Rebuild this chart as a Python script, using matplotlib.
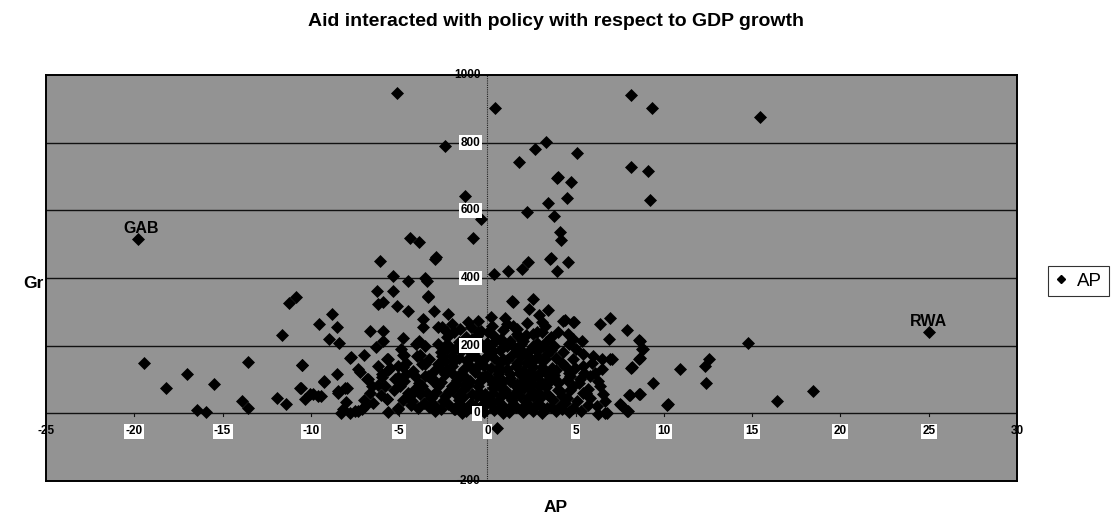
import matplotlib
matplotlib.use("Agg")
import matplotlib.pyplot as plt
from matplotlib.lines import Line2D

title = "Aid interacted with policy with respect to GDP growth"
x_label = "AP"
y_label = "Gr"
series_name = "AP"

x_ticks = [-25, -20, -15, -10, -5, 0, 5, 10, 15, 20, 25, 30]
y_ticks = [-200, 0, 200, 400, 600, 800, 1000]

# labelled countries
labels = ["GAB", "RWA"]
label_x = [-19.8, 25.0]
label_y = [515, 241]

# (AP, Gr) points
points_outer = [
    (-19.8, 515), (25.0, 241),
    (-5.1, 948), (-2.4, 791), (-1.25, 643), (-0.35, 575), (-0.8, 518), (-4.4, 518),
    (-3.9, 506), (-2.9, 462),
    (0.44, 901), (3.3, 802), (2.7, 780), (5.06, 770), (1.8, 742), (8.14, 940),
    (9.33, 901), (15.47, 877), (8.14, 728), (9.08, 715), (9.2, 632), (3.93, 695),
    (4.0, 700), (4.74, 685), (4.5, 637), (3.46, 622), (2.27, 595), (3.78, 583),
    (4.14, 537), (4.17, 513), (3.6, 459),
    (0.38, 412), (1.15, 420), (1.98, 427), (2.32, 446), (3.57, 456), (3.95, 422),
    (4.57, 448), (1.42, 331), (2.57, 338), (2.36, 308), (3.46, 306), (1.0, 281),
    (4.4, 276), (4.93, 269),
    (6.38, 264), (6.93, 283), (7.89, 246), (6.91, 219), (8.59, 217), (8.74, 190),
    (8.61, 162), (8.14, 135), (7.04, 160), (14.75, 207), (10.93, 130), (12.56, 160),
    (12.3, 140), (12.4, 91), (9.37, 91), (18.43, 66), (16.41, 36), (10.2, 26),
    (8.05, 54), (8.6, 58), (7.55, 26), (7.93, 6), (6.29, -2), (6.67, 0), (0.53, -44),
]
points_left = [
    (-19.43, 150), (-18.2, 74), (-17.04, 116), (-16.45, 10), (-15.92, 4),
    (-15.47, 88), (-13.58, 152), (-13.92, 36), (-13.54, 16), (-11.94, 44),
    (-11.39, 27), (-11.65, 232), (-11.24, 326), (-10.86, 343), (-10.5, 143),
    (-10.58, 76), (-10.33, 41), (-9.86, 56), (-9.42, 51), (-9.24, 94), (-9.54, 264),
    (-8.82, 295), (-8.54, 254), (-8.97, 219), (-8.39, 207), (-8.52, 117),
    (-8.44, 66), (-7.97, 76), (-8.0, 34), (-8.31, 2), (-7.78, 2), (-7.5, 7),
    (-7.12, 14), (-7.72, 167), (-6.97, 172), (-7.21, 122), (-6.74, 101),
    (-6.65, 61), (-6.22, 83), (-5.99, 116), (-5.61, 160), (-5.7, 41), (-5.61, 4),
    (-5.04, 14), (-5.51, 135), (-5.04, 140), (-5.04, 106), (-4.76, 172),
    (-4.7, 96), (-6.65, 244), (-5.89, 244), (-5.89, 214), (-4.8, 224),
    (-4.06, 204), (-3.53, 199), (-4.0, 170), (-3.53, 145), (-3.34, 111),
    (-4.49, 303), (-5.14, 318), (-6.18, 323), (-5.89, 330), (-6.27, 362),
    (-5.33, 362), (-6.08, 449), (-5.37, 407), (-4.52, 390), (-3.53, 399),
    (-3.44, 390), (-2.96, 456), (-3.38, 343), (-3.0, 303), (-3.63, 279),
    (-3.63, 254), (-2.78, 254), (-2.21, 293), (-2.31, 239), (-1.55, 249),
    (-0.51, 273), (-0.36, 244), (-2.4, 199), (-2.96, 7), (-1.83, 12), (-1.46, 2),
    (-3.34, 346), (-2.59, 254), (-2.02, 264), (-0.51, 239), (-0.89, 219),
    (-2.31, 190), (-2.02, 170), (-1.17, 155), (-0.32, 155), (-7.78, 165),
    (-5.7, 160), (-4.7, 172), (-3.81, 172), (-3.72, 145), (-4.76, 138),
    (-5.61, 128), (-10.48, 142), (-7.31, 132), (-5.99, 106), (-9.24, 96),
    (-8.06, 76), (-10.61, 76), (-10.05, 56), (-9.58, 51), (-8.44, 61),
    (-6.84, 101), (-6.56, 81), (-5.8, 81), (-5.23, 101), (-4.95, 81),
    (-4.61, 116), (-4.1, 111), (-4.1, 71), (-3.53, 111), (-5.7, 41),
    (-5.04, 17), (-4.29, 36), (-3.81, 56), (-3.91, 17), (-8.16, 12),
    (-6.93, 22), (-7.31, 7),
]
points_right = [
    (1.47, 330), (1.1, 264), (0.24, 259), (1.47, 259), (2.23, 267), (3.08, 269),
    (3.27, 259), (4.31, 273), (4.87, 269), (4.59, 234), (4.87, 219), (5.34, 214),
    (8.65, 214), (8.8, 190), (8.65, 165), (8.18, 138), (6.95, 160), (6.48, 162),
    (5.97, 168), (6.48, 132), (5.44, 140), (5.82, 111), (6.29, 96), (6.38, 81),
    (5.72, 71), (5.82, 46), (6.57, 56), (6.67, 36), (6.19, 22), (7.52, 27),
    (8.08, 53), (8.65, 56), (10.22, 27), (7.99, 7), (6.76, 2), (4.87, 160),
    (4.97, 135), (4.69, 111), (5.25, 101), (4.87, 81), (5.44, 61), (4.12, 22),
    (4.87, 17), (3.36, 17), (2.79, 27), (4.5, 46), (4.12, 66), (3.84, 101),
    (3.65, 135), (3.27, 160), (3.17, 199), (2.79, 185), (2.42, 165), (2.04, 180),
    (1.66, 190), (2.04, 214), (2.61, 234), (2.79, 209), (1.76, 229), (0.91, 209),
    (0.34, 185), (-0.04, 209), (0.06, 239), (0.91, 160), (1.66, 150), (0.53, 130),
    (1.29, 116), (2.04, 125), (2.61, 111), (3.08, 91), (2.42, 81), (1.66, 86),
    (0.91, 96), (0.15, 101), (0.34, 61), (1.1, 56), (1.85, 51), (2.61, 51),
    (3.36, 56), (2.23, 22), (1.47, 27), (0.72, 17), (-0.04, 32),
]
points_dense = [
    (-2.78, 145), (-2.02, 140), (-2.4, 116), (-1.55, 116), (-0.7, 130),
    (-0.13, 111), (-2.78, 81), (-2.02, 81), (-1.26, 86), (-0.51, 81),
    (-3.15, 51), (-2.4, 51), (-1.64, 51), (-0.89, 56), (-0.13, 56),
    (-2.96, 22), (-2.21, 27), (-1.46, 22), (-0.7, 22), (-2.59, 170),
    (-1.83, 190), (-0.98, 180), (-0.41, 199),
    (-1.9, 12), (-1.2, 8), (-0.6, 15), (0.4, 10), (1.2, 5), (1.9, 12), (2.6, 8),
    (3.2, 14), (3.9, 6), (-2.5, 35), (-1.6, 38), (-0.9, 30), (-0.2, 42), (0.6, 36),
    (1.4, 40), (2.2, 33), (3.0, 45), (3.7, 38), (4.4, 30), (-2.2, 65), (-1.4, 70),
    (-0.5, 62), (0.3, 75), (1.0, 68), (1.8, 72), (2.5, 66), (3.3, 78), (4.0, 70),
    (-1.7, 100), (-1.0, 95), (-0.3, 108), (0.5, 98), (1.3, 104), (2.0, 96),
    (2.8, 110), (3.5, 102), (-2.3, 125), (-1.3, 130), (-0.7, 122), (0.2, 135),
    (0.8, 128), (1.6, 140), (2.4, 122), (3.1, 136), (3.9, 128), (-1.9, 155),
    (-1.1, 160), (-0.4, 150), (0.4, 165), (1.1, 158), (1.9, 170), (2.7, 162),
    (3.4, 175), (4.2, 150), (-2.6, 180), (-1.5, 185), (-0.8, 178), (0.1, 190),
    (0.7, 186), (1.5, 195), (2.3, 182), (2.9, 192), (3.6, 188), (4.6, 120),
    (5.2, 90), (5.6, 60), (-3.4, 60), (-3.1, 95), (-2.7, 135), (-3.6, 30),
    (-3.2, 45), (-4.3, 25), (-4.5, 60), (-3.9, 215), (-1.2, 225), (-0.6, 230),
    (0.8, 220), (1.7, 235), (2.5, 90), (-3.0, 100), (-2.0, 70), (-1.1, 85),
    (0.0, 110), (1.3, 95), (2.1, 75), (2.9, 115), (3.8, 200), (-2.8, 205),
    (-1.6, 210), (-0.2, 195), (0.9, 245), (1.7, 250), (2.8, 240), (3.6, 225),
    (4.3, 180), (5.0, 190),
]
points_core = [
    (-1.8, 20), (-1.0, 18), (-0.3, 24), (0.2, 28), (0.9, 22), (1.6, 18), (2.4, 20),
    (3.0, 26), (3.6, 20), (4.2, 14), (-2.6, 12), (-3.3, 18), (-1.4, 48), (-0.6, 50),
    (0.1, 46), (0.8, 52), (1.5, 56), (2.3, 48), (2.9, 60), (3.5, 52), (4.2, 52),
    (-2.9, 62), (-2.6, 92), (-1.8, 85), (-1.3, 110), (-0.5, 92), (0.3, 88), (0.7, 78),
    (1.6, 80), (2.2, 105), (2.9, 82), (3.4, 88), (4.0, 90), (4.5, 100), (-3.0, 125),
    (-2.0, 118), (-1.0, 140), (-0.2, 140), (0.6, 115), (1.1, 132), (1.8, 118),
    (2.6, 138), (3.3, 118), (3.8, 112), (4.4, 140), (-3.3, 160), (-2.4, 155),
    (-1.6, 165), (-0.7, 168), (0.0, 168), (0.7, 150), (1.4, 172), (2.2, 150),
    (3.0, 160), (3.9, 165), (-2.2, 200), (-1.2, 198), (-0.5, 212), (0.4, 210),
    (1.1, 200), (1.9, 205), (2.6, 200), (3.3, 210), (4.0, 240), (-4.6, 150),
    (-4.2, 125), (-3.9, 90), (-4.8, 40), (-4.4, 50), (-3.7, 80), (-6.2, 140),
    (-6.0, 55), (-6.5, 30), (-7.0, 40), (-4.9, 190), (-6.3, 195), (-5.3, 70),
    (-2.3, 225), (-1.9, 240), (-0.9, 255), (0.4, 230), (1.3, 215), (2.2, 232),
    (3.1, 240), (0.2, 285), (-1.1, 270), (2.9, 290), (4.6, 205), (5.4, 175),
    (5.1, 35), (5.7, 25), (4.7, 70), (5.9, 150), (6.1, 120), (5.5, 120),
    (-0.2, 5), (0.9, 2), (2.0, 3), (3.1, 2), (4.6, 5), (5.3, 8),
]

BG = "#939393"

fig = plt.figure(figsize=(11.12, 5.23), dpi=100)
ax = fig.add_axes([46 / 1112, 1 - 481 / 523, (1017 - 46) / 1112, (481 - 75) / 523])
ax.set_facecolor(BG)
ax.set_xlim(x_ticks[0], x_ticks[-1])
ax.set_ylim(y_ticks[0], y_ticks[-1])

for yv in y_ticks[1:-1]:
    ax.axhline(yv, color="#111111", lw=1.0, zorder=1)
ax.axvline(0, color="#222222", lw=0.8, ls=(0, (1, 1)), zorder=1)

for xv in x_ticks[1:-1]:
    ax.plot([xv, xv], [0, -8], color="#111111", lw=0.8, zorder=1)

for group in (points_outer, points_left, points_right, points_dense, points_core):
    xs = [p[0] for p in group]
    ys = [p[1] for p in group]
    ax.scatter(xs, ys, marker="D", s=44, color="black", linewidths=0, zorder=3)

for spine in ax.spines.values():
    spine.set_linewidth(1.4)
    spine.set_color("black")
ax.set_xticks([])
ax.set_yticks([])

box = dict(boxstyle="square,pad=0.12", facecolor="white", edgecolor="none")
tick_font = dict(fontsize=8.5, fontfamily="Liberation Sans", fontweight="bold")
for xv in x_ticks:
    edge = xv in (x_ticks[0], x_ticks[-1])
    ax.text(xv, -53, str(xv), ha="center", va="center", zorder=4,
            bbox=None if edge else box, **tick_font)
for yv in y_ticks:
    edge = yv in (y_ticks[0], y_ticks[-1])
    ax.text(-0.4, yv, str(yv), ha="right", va="center", zorder=4,
            bbox=None if edge else box, **tick_font)

for name, lx, ly in zip(labels, label_x, label_y):
    ax.text(lx - 0.8 if name == "GAB" else lx, ly + 8, name,
            ha="left" if name == "GAB" else "center",
            va="bottom", fontsize=11.5, fontweight="bold", fontfamily="Liberation Sans",
            zorder=5)

fig.text(0.5, 1 - 21 / 523, title, ha="center", va="center", fontsize=14,
         fontweight="bold", fontfamily="Liberation Sans")
fig.text(556 / 1112, 1 - 507 / 523, x_label, ha="center", va="center", fontsize=12.5,
         fontweight="bold", fontfamily="Liberation Sans")
fig.text(33 / 1112, 1 - 283 / 523, y_label, ha="center", va="center", fontsize=12.5,
         fontweight="bold", fontfamily="Liberation Sans")

handle = Line2D([], [], marker="D", color="black", ls="none", markersize=4.5)
leg = fig.legend([handle], [series_name], loc="center left",
                 bbox_to_anchor=(1048 / 1112, 1 - 281 / 523), frameon=True,
                 fancybox=False, edgecolor="black", handlelength=0.7,
                 handletextpad=0.5, borderpad=0.35, borderaxespad=0,
                 prop=dict(family="Liberation Sans", size=13.5))
leg.get_frame().set_linewidth(0.8)

fig.savefig("out.png", dpi=100)
